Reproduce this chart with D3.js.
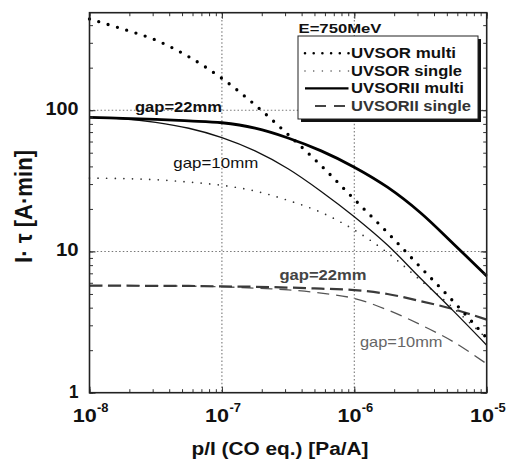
<!DOCTYPE html>
<html>
<head>
<meta charset="utf-8">
<script src="https://cdn.jsdelivr.net/npm/d3@7"></script>
<style>
  body { margin: 0; background: #fff; }
  svg text { font-family: "Liberation Sans", Arial, sans-serif; fill: #111; }
</style>
</head>
<body>
<div id="chartContent"></div>
<script>
// pressure per current, p/I [Pa/A] (quarter decade steps)
var pressure = [1e-8, 1.78e-8, 3.16e-8, 5.62e-8, 1e-7, 1.78e-7, 3.16e-7, 5.62e-7, 1e-6, 1.78e-6, 3.16e-6, 5.62e-6, 1e-5];

// I*tau [A*min]
var uvsorMulti    = [442, 376, 314, 239, 168, 109, 67.3, 40.5, 23.4, 13.6, 7.74, 4.41, 2.44];
var uvsorSingle   = [33.1, 32.8, 32.2, 31, 29.4, 26.8, 23, 18.9, 14.2, 9.8, 6.26, 3.97, 2.42];
var uvsor2Multi22 = [89, 87.5, 86, 84, 81.5, 74.6, 63.6, 51.5, 39.5, 28.5, 18.8, 11.3, 6.7];
var uvsor2Multi10 = [89, 87, 82, 74.5, 64, 51.5, 38.5, 26.6, 17.6, 11.1, 6.46, 3.78, 2.17];
var uvsor2Single22 = [5.72, 5.72, 5.71, 5.7, 5.66, 5.62, 5.55, 5.45, 5.33, 5.0, 4.45, 3.9, 3.29];
var uvsor2Single10 = [5.72, 5.72, 5.71, 5.68, 5.62, 5.5, 5.35, 5.07, 4.65, 3.86, 3.03, 2.29, 1.6];

var xTickValues = [1e-8, 1e-7, 1e-6, 1e-5];
var xTickExp = ["-8", "-7", "-6", "-5"];
var yTickValues = [1, 10, 100];
var yTickLabels = ["1", "10", "100"];

var legendNames = ["UVSOR multi", "UVSOR single", "UVSORII multi", "UVSORII single"];

var chartWidth = 509, chartHeight = 459;
var plotL = 89.5, plotR = 486.7, plotT = 12.7, plotB = 392.7;

var svg = d3.select("#chartContent")
    .append("svg")
    .attr("width", chartWidth)
    .attr("height", chartHeight);

svg.append("rect").attr("width", chartWidth).attr("height", chartHeight).attr("fill", "#fff");

var x = d3.scaleLog().domain([1e-8, 1e-5]).range([plotL, plotR]);
var y = d3.scaleLog().domain([1, 490]).range([plotB, plotT]);

var chart = svg.append("g");

//Grid (dotted)
chart.selectAll(".vgrid")
    .data([1e-7, 1e-6])
    .enter()
    .append("line")
    .attr("x1", d => x(d)).attr("x2", d => x(d))
    .attr("y1", plotT).attr("y2", plotB)
    .attr("stroke", "#777").attr("stroke-width", 1.1)
    .attr("stroke-dasharray", "1.5,2.2");

chart.selectAll(".hgrid")
    .data([10, 100])
    .enter()
    .append("line")
    .attr("x1", plotL).attr("x2", plotR)
    .attr("y1", d => y(d)).attr("y2", d => y(d))
    .attr("stroke", "#777").attr("stroke-width", 1.1)
    .attr("stroke-dasharray", "1.5,2.2");

//Curves
var series = [
    {values: uvsorSingle, color: "#333", width: 1.7, dash: "0,8.6", cap: "round"},
    {values: uvsor2Single10, color: "#555", width: 1.3, dash: "12,7", cap: "butt"},
    {values: uvsor2Single22, color: "#3a3a3a", width: 2.2, dash: "13,5.5", cap: "butt"},
    {values: uvsor2Multi10, color: "#111", width: 1.3, dash: null, cap: "butt"},
    {values: uvsor2Multi22, color: "#000", width: 2.8, dash: null, cap: "butt"},
    {values: uvsorMulti, color: "#000", width: 3.3, dash: "0,9.7", cap: "round"}
];

var line = d3.line()
    .x((d, i) => x(pressure[i]))
    .y(d => y(d))
    .curve(d3.curveCatmullRom.alpha(0.5));

chart.selectAll(".curve")
    .data(series)
    .enter()
    .append("path")
    .attr("d", d => line(d.values))
    .attr("fill", "none")
    .attr("stroke", d => d.color)
    .attr("stroke-width", d => d.width)
    .attr("stroke-dasharray", d => d.dash)
    .attr("stroke-linecap", d => d.cap);

//Ticks, all pointing inward
function ticks(axis, scale, values, size, tx, ty) {
    var g = chart.append("g")
        .attr("transform", `translate(${tx},${ty})`)
        .call(axis(scale).tickValues(values).tickSize(-size).tickFormat(""));
    g.select(".domain").remove();
    g.selectAll("line").attr("stroke", "#333").attr("stroke-width", 1);
}
ticks(d3.axisBottom, x, x.ticks(), 3.5, 0, plotB);
ticks(d3.axisTop, x, x.ticks(), 3.5, 0, plotT);
ticks(d3.axisLeft, y, y.ticks(), 3.5, plotL, 0);
ticks(d3.axisRight, y, y.ticks(), 3.5, plotR, 0);
ticks(d3.axisBottom, x, xTickValues, 6, 0, plotB);
ticks(d3.axisTop, x, xTickValues, 6, 0, plotT);
ticks(d3.axisLeft, y, yTickValues, 6, plotL, 0);
ticks(d3.axisRight, y, yTickValues, 6, plotR, 0);

//Frame
chart.append("rect")
    .attr("x", plotL).attr("y", plotT)
    .attr("width", plotR - plotL).attr("height", plotB - plotT)
    .attr("fill", "none")
    .attr("stroke", "#222")
    .attr("stroke-width", 1.6);

//Helper for stretched text (the figure text is wider than the font)
function label(g, txt, px, py, size, len, opts) {
    opts = opts || {};
    return g.append("text")
        .attr("x", px).attr("y", py)
        .attr("font-size", size)
        .attr("font-weight", opts.weight || "bold")
        .attr("text-anchor", opts.anchor || "start")
        .attr("textLength", len)
        .attr("lengthAdjust", "spacingAndGlyphs")
        .style("fill", opts.color || "#111")
        .text(txt);
}

//Tick labels
yTickValues.forEach((v, i) => {
    var w = [9.5, 22.6, 33][i];
    label(svg, yTickLabels[i], 78.5, y(v) + 4.8, 18.5, w, {anchor: "end"});
});

xTickValues.forEach((v, i) => {
    label(svg, "10", x(v) - 16.8, 421.7, 18.5, 24);
    label(svg, xTickExp[i], x(v) + 7.5, 411.5, 13, 11.5);
});

//Axis titles
label(svg, "p/I (CO eq.) [Pa/A]", 280, 454.5, 17.5, 177, {anchor: "middle"});

svg.append("text")
    .attr("transform", "translate(31.5,206.5) rotate(-90) scale(1,1.15)")
    .attr("font-size", 20)
    .attr("font-weight", "bold")
    .attr("text-anchor", "middle")
    .attr("textLength", 113)
    .attr("lengthAdjust", "spacingAndGlyphs")
    .text("I· τ [A·min]");

//Curve annotations
label(svg, "gap=22mm", 135, 111.5, 15, 87);
label(svg, "gap=10mm", 173.3, 167.5, 15, 85, {weight: "normal"});
label(svg, "gap=22mm", 279.5, 279.5, 14.5, 87, {color: "#444"});
label(svg, "gap=10mm", 360, 347, 14.5, 82.5, {weight: "normal", color: "#666"});

//Legend
var legend = svg.append("g");
var lx = 298, ly = 36, lw = 180, lh = 83;

legend.append("rect")
    .attr("x", lx + 3).attr("y", ly + 3)
    .attr("width", lw).attr("height", lh)
    .attr("fill", "#111");
legend.append("rect")
    .attr("x", lx).attr("y", ly)
    .attr("width", lw).attr("height", lh)
    .attr("fill", "#fff")
    .attr("stroke", "#222")
    .attr("stroke-width", 1);

label(svg, "E=750MeV", 298.5, 33, 13.5, 83);

var legendStyles = [
    {color: "#000", width: 2.6, dash: "0,8.7", cap: "round", x1: 305},
    {color: "#555", width: 1.6, dash: "0,8.7", cap: "round", x1: 305},
    {color: "#000", width: 2.2, dash: null, cap: "butt", x1: 305},
    {color: "#444", width: 2.2, dash: "11,8", cap: "butt", x1: 315}
];
var legendRowY = [53.3, 71, 88.3, 106];
var legendTextW = [105, 111, 113, 120];

legendNames.forEach((name, i) => {
    var s = legendStyles[i];
    legend.append("line")
        .attr("x1", s.x1).attr("x2", 348.5)
        .attr("y1", legendRowY[i]).attr("y2", legendRowY[i])
        .attr("stroke", s.color)
        .attr("stroke-width", s.width)
        .attr("stroke-dasharray", s.dash)
        .attr("stroke-linecap", s.cap);
    label(legend, name, 351, legendRowY[i] + 5, 14, legendTextW[i], {color: i == 3 ? "#333" : "#111"});
});
</script>
</body>
</html>
